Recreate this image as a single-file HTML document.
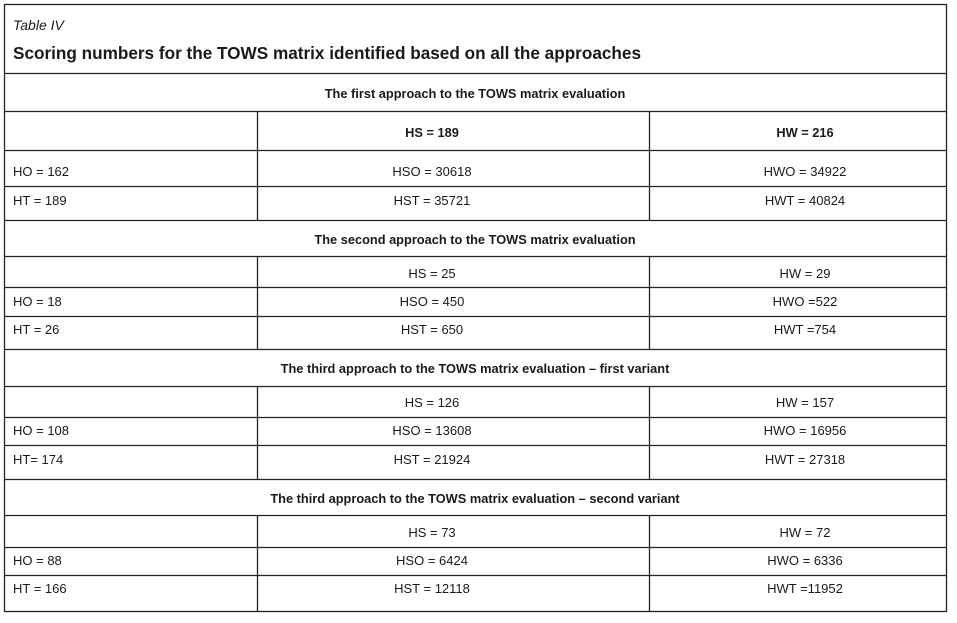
<!DOCTYPE html>
<html><head><meta charset="utf-8"><style>
html,body{margin:0;padding:0;background:#fff;}
svg{display:block;}
text{font-family:"Liberation Sans",Arial,sans-serif;fill:#1a1a1a;font-size:13px;}
.b{font-weight:bold;font-size:12.8px;}
.c{text-anchor:middle;}
</style></head><body>
<svg width="957" height="623" viewBox="0 0 957 623">
<rect x="4.5" y="4.5" width="942" height="607" fill="none" stroke="#222" stroke-width="1.3"/>
<text x="13" y="30" style="font-style:italic;font-size:14px">Table IV</text>
<text x="13" y="59" style="font-weight:bold;font-size:17.2px" textLength="628" lengthAdjust="spacingAndGlyphs">Scoring numbers for the TOWS matrix identified based on all the approaches</text>
<g stroke="#222" stroke-width="1.3">
<line x1="4" x2="946" y1="73.5" y2="73.5"/>
<line x1="4" x2="946" y1="111.5" y2="111.5"/>
<line x1="4" x2="946" y1="150.5" y2="150.5"/>
<line x1="4" x2="946" y1="186.5" y2="186.5"/>
<line x1="4" x2="946" y1="220.5" y2="220.5"/>
<line x1="4" x2="946" y1="256.5" y2="256.5"/>
<line x1="4" x2="946" y1="287.5" y2="287.5"/>
<line x1="4" x2="946" y1="316.5" y2="316.5"/>
<line x1="4" x2="946" y1="349.5" y2="349.5"/>
<line x1="4" x2="946" y1="386.5" y2="386.5"/>
<line x1="4" x2="946" y1="417.5" y2="417.5"/>
<line x1="4" x2="946" y1="445.5" y2="445.5"/>
<line x1="4" x2="946" y1="479.5" y2="479.5"/>
<line x1="4" x2="946" y1="515.5" y2="515.5"/>
<line x1="4" x2="946" y1="547.5" y2="547.5"/>
<line x1="4" x2="946" y1="575.5" y2="575.5"/>
<line x1="257.5" x2="257.5" y1="111" y2="220"/>
<line x1="649.5" x2="649.5" y1="111" y2="220"/>
<line x1="257.5" x2="257.5" y1="256" y2="349"/>
<line x1="649.5" x2="649.5" y1="256" y2="349"/>
<line x1="257.5" x2="257.5" y1="386" y2="479"/>
<line x1="649.5" x2="649.5" y1="386" y2="479"/>
<line x1="257.5" x2="257.5" y1="515" y2="611"/>
<line x1="649.5" x2="649.5" y1="515" y2="611"/>
</g>
<text x="475" y="98" class="b c">The first approach to the TOWS matrix evaluation</text>
<text x="432" y="137" class="b c">HS = 189</text>
<text x="805" y="137" class="b c">HW = 216</text>
<text x="13" y="176">HO = 162</text>
<text x="432" y="176" class="c">HSO = 30618</text>
<text x="805" y="176" class="c">HWO = 34922</text>
<text x="13" y="205">HT = 189</text>
<text x="432" y="205" class="c">HST = 35721</text>
<text x="805" y="205" class="c">HWT = 40824</text>

<text x="475" y="244" class="b c">The second approach to the TOWS matrix evaluation</text>
<text x="432" y="278" class="c">HS = 25</text>
<text x="805" y="278" class="c">HW = 29</text>
<text x="13" y="306">HO = 18</text>
<text x="432" y="306" class="c">HSO = 450</text>
<text x="805" y="306" class="c">HWO =522</text>
<text x="13" y="334">HT = 26</text>
<text x="432" y="334" class="c">HST = 650</text>
<text x="805" y="334" class="c">HWT =754</text>

<text x="475" y="373" class="b c">The third approach to the TOWS matrix evaluation – first variant</text>
<text x="432" y="407" class="c">HS = 126</text>
<text x="805" y="407" class="c">HW = 157</text>
<text x="13" y="435">HO = 108</text>
<text x="432" y="435" class="c">HSO = 13608</text>
<text x="805" y="435" class="c">HWO = 16956</text>
<text x="13" y="464">HT= 174</text>
<text x="432" y="464" class="c">HST = 21924</text>
<text x="805" y="464" class="c">HWT = 27318</text>

<text x="475" y="503" class="b c">The third approach to the TOWS matrix evaluation – second variant</text>
<text x="432" y="537" class="c">HS = 73</text>
<text x="805" y="537" class="c">HW = 72</text>
<text x="13" y="565">HO = 88</text>
<text x="432" y="565" class="c">HSO = 6424</text>
<text x="805" y="565" class="c">HWO = 6336</text>
<text x="13" y="593">HT = 166</text>
<text x="432" y="593" class="c">HST = 12118</text>
<text x="805" y="593" class="c">HWT =11952</text>
</svg>
</body></html>
